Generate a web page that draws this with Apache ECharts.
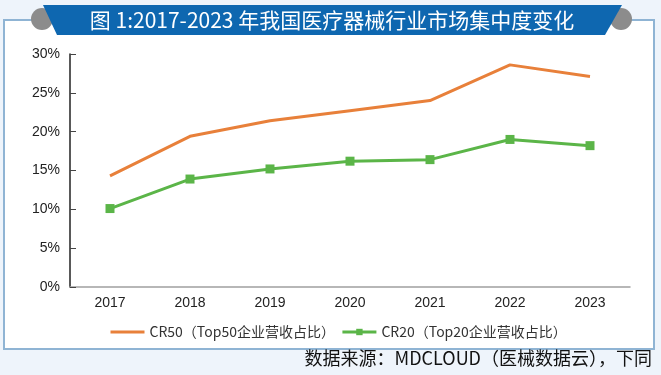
<!DOCTYPE html>
<html>
<head>
<meta charset="utf-8">
<script src="https://cdn.jsdelivr.net/npm/echarts@6/dist/echarts.min.js"></script>
<style>
  html, body { margin: 0; padding: 0; background: #eef4fb; }
  #main { width: 661px; height: 375px; }
</style>
</head>
<body>
<div id="main"></div>
<script>
// 年份
var years = ['2017', '2018', '2019', '2020', '2021', '2022', '2023'];
// CR50 / CR20 (%)
var cr50 = [14.3, 19.4, 21.4, 22.7, 24.0, 28.6, 27.1];
var cr20 = [10.1, 13.9, 15.2, 16.2, 16.4, 19.0, 18.2];
var yTicks = [0, 5, 10, 15, 20, 25, 30];

var name50 = 'CR50（Top50企业营收占比）';
var name20 = 'CR20（Top20企业营收占比）';
var titleText = '图 1:2017-2023 年我国医疗器械行业市场集中度变化';
var sourceText = '数据来源：MDCLOUD（医械数据云），下同';

var myChart = echarts.init(document.getElementById('main'));

var option = {
	backgroundColor: '#eef4fb',
	animation: false,
	textStyle: { fontFamily: 'Liberation Sans, Noto Sans CJK SC' },
	graphic: [
		// 标题两侧灰色半圆
		{ type: 'circle', shape: { cx: 42, cy: 19, r: 11 }, style: { fill: '#8c8c8c' }, z: 1 },
		{ type: 'circle', shape: { cx: 621, cy: 19, r: 11 }, style: { fill: '#8c8c8c' }, z: 1 },
		// 白色框
		{ type: 'rect', shape: { x: 4, y: 20, width: 650, height: 329 },
		  style: { fill: '#ffffff', stroke: '#8fb4d4', lineWidth: 2 }, z: -1 },
		// 标题蓝色条
		{ type: 'polygon', shape: { points: [[43, 5], [622, 5], [605, 35], [57, 35]] },
		  style: { fill: '#0e67b0' }, z: 5 },
		{ type: 'text', x: 332, y: 20, z: 6,
		  style: { text: titleText, fill: '#ffffff', font: '21px "Noto Sans CJK SC"',
		           align: 'center', verticalAlign: 'middle' } },
		// 数据来源
		{ type: 'text', x: 652, y: 358, z: 6,
		  style: { text: sourceText, fill: '#111111', font: '18px "Noto Sans CJK SC"',
		           align: 'right', verticalAlign: 'middle' } }
	],
	grid: { left: 70, right: 31, top: 54, bottom: 88 },
	legend: {
		left: 104,
		top: 320,
		itemWidth: 34,
		itemHeight: 8,
		itemGap: 6,
		lineStyle: { width: 3 },
		textStyle: { fontSize: 14, color: '#333', fontFamily: 'Noto Sans CJK SC' },
		data: [
			{ name: name50, itemStyle: { opacity: 0 } },
			{ name: name20 }
		]
	},
	xAxis: {
		type: 'category',
		data: years,
		boundaryGap: true,
		axisLine: { lineStyle: { color: '#a0a0a0', width: 1.5 } },
		axisTick: { show: false },
		axisLabel: { color: '#222', fontSize: 14, margin: 9 }
	},
	yAxis: {
		type: 'value',
		min: yTicks[0],
		max: yTicks[yTicks.length - 1],
		interval: 5,
		splitLine: { show: false },
		axisLine: { show: true, lineStyle: { color: '#222', width: 1.5 } },
		axisTick: { show: true, inside: true, length: 6, lineStyle: { color: '#444' } },
		axisLabel: { color: '#222', fontSize: 14, margin: 10, formatter: '{value}%' }
	},
	series: [
		{
			name: name50,
			type: 'line',
			data: cr50,
			symbol: 'none',
			lineStyle: { color: '#e8803a', width: 3 },
			itemStyle: { color: '#e8803a' }
		},
		{
			name: name20,
			type: 'line',
			data: cr20,
			symbol: 'rect',
			symbolSize: 9,
			lineStyle: { color: '#5bb548', width: 3 },
			itemStyle: { color: '#5bb548' }
		}
	]
};

myChart.setOption(option);
</script>
</body>
</html>
